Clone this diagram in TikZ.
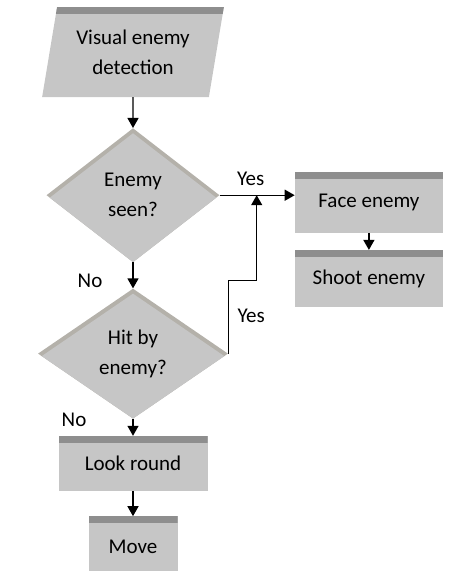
\documentclass[tikz,border=0pt]{standalone}
\usepackage{fontspec}
\setmainfont{Carlito}
\usepackage{tikz}
\usetikzlibrary{
  arrows.meta, % for the Triangle arrow tip
  positioning, % for relative placement of the blocks
  shapes.geometric % diamond and trapezium shapes
}
\definecolor{boxgray}{HTML}{C6C6C6}
\definecolor{stripgray}{HTML}{8E8E8E}
\definecolor{bevelgray}{HTML}{B4B1AA}
\newcommand{\chartfont}{\fontsize{21}{30}\selectfont}
\tikzset{
  block/.style={ % style for the action blocks
    rectangle,fill=boxgray, % flat grey box
    inner sep=0pt,align=center,font=\chartfont,
    path picture={ % darker strip along the top edge
      \fill[stripgray] (path picture bounding box.north west)
        rectangle ([yshift=-7pt]path picture bounding box.north east);
    },
  },
  io/.style={ % style for the input step
    block, % inherit the block style
    trapezium,trapezium stretches=true,
    trapezium left angle=76,trapezium right angle=104,
  },
  decision/.style={ % style for the questions
    diamond,fill=bevelgray, % bevel colour shows along the upper edges
    inner sep=0pt,align=center,font=\chartfont,
    path picture={ % face of the diamond, pushed down a little
      \fill[boxgray] ([yshift=-5pt]path picture bounding box.north)
        -- ([yshift=-5pt]path picture bounding box.east)
        -- ([yshift=-5pt]path picture bounding box.south)
        -- ([yshift=-5pt]path picture bounding box.west) -- cycle;
    },
  },
  lbl/.style={ % style for the yes/no labels
    inner sep=0pt,font=\chartfont,
  },
  conn/.style={ % style for the connections
    -{Triangle[width=11pt,length=10pt]},
    line width=1.3pt,
  },
}

\begin{document}
\begin{tikzpicture}[x=1pt,y=1pt]
  \useasboundingbox (0,0) rectangle (451,-571);

  \node[io,minimum width=182pt,minimum height=90pt] (detect) at (133,-52)
  {Visual enemy\\detection};
  \node[decision,minimum width=173pt,minimum height=134pt,below=76pt of detect.center] (seen)
  {Enemy\\seen?};
  \node[decision,minimum width=190pt,minimum height=130pt,below=26pt of seen] (hit)
  {Hit by\\enemy?};
  \node[block,minimum width=149pt,minimum height=55pt,below=17pt of hit] (look)
  {Look round};
  \node[block,minimum width=89pt,minimum height=60pt,below=25pt of look] (move)
  {Move};

  \node[block,minimum width=148pt,minimum height=61pt,right=75pt of seen.east,yshift=-7pt] (face)
  {Face enemy};
  \node[block,minimum width=148pt,minimum height=57pt,below=17pt of face] (shoot)
  {Shoot enemy};

  \coordinate[right=37pt of seen.east] (yesjoin);
  \coordinate[above=73pt of hit.east] (yesjog);

  \node[lbl] (yes1) at ([xshift=-6pt,yshift=16pt]yesjoin) {Yes};
  \node[lbl] (no1) at ([xshift=-43pt,yshift=-18pt]seen.south) {No};
  \node[lbl] (yes2) at ([xshift=23pt,yshift=-35pt]yesjog) {Yes};
  \node[lbl] (no2) at ([xshift=-59pt,yshift=-1pt]hit.south) {No};

  \draw[conn] (detect) -- (seen);
  \draw[conn] (seen) -- (hit);
  \draw[conn] (hit) -- (look);
  \draw[conn] (look) -- (move);
  \draw[conn] (seen.east) -- (seen.east -| face.west);
  \draw[conn] (face) -- (shoot);
  \draw[conn] (hit.east) -- (yesjog) -| (yesjoin);
\end{tikzpicture}
\end{document}
